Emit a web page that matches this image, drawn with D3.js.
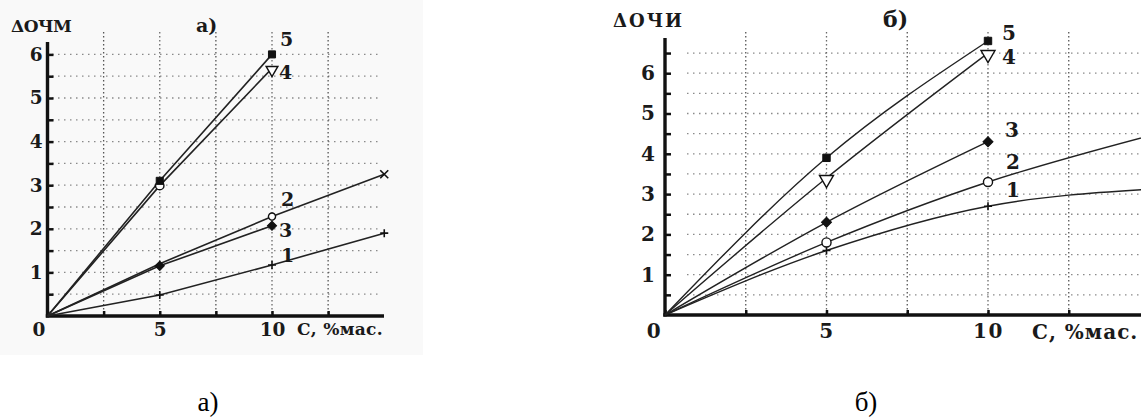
<!DOCTYPE html>
<html><head><meta charset="utf-8">
<script src="https://cdn.jsdelivr.net/npm/d3@7"></script>
<style>
html,body{margin:0;padding:0;background:#fff;}
svg{display:block;}
</style></head>
<body>
<svg id="c" width="1141" height="418"></svg>
<script>
// ---- data ----
const concA = [0, 5, 10, 15];
const a1 = [0, 0.48, 1.17, 1.9];
const a2 = [0, 1.2, 2.28, 3.25];
const a3 = [0, 1.15, 2.07];
const a4 = [0, 2.99, 5.68];
const a5 = [0, 3.1, 6.0];

const concB = [0, 5, 10, 15];
const b1 = [0, 1.6, 2.7, 3.12];
const b2 = [0, 1.8, 3.3, 4.45];
const b3 = [0, 2.3, 4.3];
const b4 = [0, 3.4, 6.5];
const b5 = [0, 3.9, 6.8];

const seriesNames = ["1", "2", "3", "4", "5"];
const xTickLabels = [0, 5, 10];
const yTickLabels = [1, 2, 3, 4, 5, 6];
const xLabel = "С, %мас.";
const yLabelA = "ΔОЧМ";
const yLabelB = "ΔОЧИ";
const titleA = "а)";
const titleB = "б)";

const FONT = "'DejaVu Serif', 'Liberation Serif', serif";
const svg = d3.select("#c");

function zip(xs, ys) { return ys.map((y, i) => [xs[i], y]); }

function txt(g, x, y, s, fs, ls) {
  return g.append("text").attr("x", x).attr("y", y)
    .attr("font-family", FONT).attr("font-size", fs).attr("font-weight", "bold")
    .attr("letter-spacing", ls || 0).attr("fill", "#1a1a1a").text(s);
}

function drawPanel(cfg) {
  const g = svg.append("g");
  if (cfg.bg) {
    g.append("rect").attr("x", 0).attr("y", 0).attr("width", cfg.bg[0]).attr("height", cfg.bg[1]).attr("fill", "#f9f9f9");
  }
  const x = d3.scaleLinear().domain(cfg.xDomain).range(cfg.xRange);
  const y = d3.scaleLinear().domain(cfg.yDomain).range(cfg.yRange);

  // horizontal grid
  const hg = d3.range(0.5, cfg.gridYMax + 0.01, 0.5);
  g.append("g").selectAll("line").data(hg).join("line")
    .attr("x1", cfg.hGridX0).attr("x2", cfg.hGridX1)
    .attr("y1", d => y(d)).attr("y2", d => y(d))
    .attr("stroke", "#8a8a8a").attr("stroke-width", 1.3).attr("stroke-dasharray", "1.5,4.5");
  // vertical grid
  const vg = [2.5, 5, 7.5, 10, 12.5];
  g.append("g").selectAll("line").data(vg).join("line")
    .attr("x1", d => x(d)).attr("x2", d => x(d))
    .attr("y1", cfg.vGridTop).attr("y2", y(0))
    .attr("stroke", d => (d % 5 === 0 ? "#6a6a6a" : "#555")).attr("stroke-width", 1.3)
    .attr("stroke-dasharray", "1.5,2.5");

  // axes
  const yAxis = d3.axisLeft(y).tickValues(d3.range(0.5, cfg.gridYMax + 0.01, 0.5))
    .tickSizeInner(-6).tickSizeOuter(0).tickPadding(cfg.yPad)
    .tickFormat(d => (Number.isInteger(d) && yTickLabels.includes(d) ? d : ""));
  const ya = g.append("g").attr("transform", `translate(${x(0)},0)`).call(yAxis);
  ya.attr("font-family", FONT);
  ya.select(".domain").remove();
  ya.selectAll(".tick line").attr("stroke", "#111").attr("stroke-width", 2.5);
  ya.selectAll("text").attr("font-size", cfg.tickFs).attr("font-weight", "bold").attr("fill", "#1a1a1a");
  g.append("line").attr("x1", x(0)).attr("x2", x(0)).attr("y1", cfg.yAxisTop).attr("y2", y(0) + 1.5)
    .attr("stroke", "#111").attr("stroke-width", 3.4);

  const xAxis = d3.axisBottom(x).tickValues([0, 2.5, 5, 7.5, 10, 12.5])
    .tickSizeInner(-5).tickSizeOuter(0).tickPadding(cfg.xPad)
    .tickFormat(d => (xTickLabels.includes(d) ? d : ""));
  const xa = g.append("g").attr("transform", `translate(0,${y(0)})`).call(xAxis);
  xa.attr("font-family", FONT);
  xa.select(".domain").remove();
  xa.selectAll(".tick line").attr("stroke", "#111").attr("stroke-width", 2.5);
  xa.selectAll("text").attr("font-size", cfg.tickFs).attr("font-weight", "bold").attr("fill", "#1a1a1a")
    .attr("letter-spacing", cfg.ls)
    .attr("dx", d => (d === 0 ? cfg.zeroDx : 0));
  g.append("line").attr("x1", x(0) - 1.7).attr("x2", cfg.xAxisEnd).attr("y1", y(0)).attr("y2", y(0))
    .attr("stroke", "#111").attr("stroke-width", 3.4);

  // x label, y label, title
  txt(g, cfg.xLabelPos[0], cfg.xLabelPos[1], xLabel, cfg.xLabelFs, cfg.xLabelLs);
  txt(g, cfg.yLabelPos[0], cfg.yLabelPos[1], cfg.yLabel, cfg.yLabelFs, cfg.yLabelLs);
  txt(g, cfg.titlePos[0], cfg.titlePos[1], cfg.title, cfg.titleFs, 0);

  // lines
  const line = d3.line().x(d => x(d[0])).y(d => y(d[1])).curve(cfg.curve);
  cfg.series.forEach(s => {
    g.append("path").datum(zip(cfg.xs, s.vals)).attr("d", line)
      .attr("fill", "none").attr("stroke", "#222").attr("stroke-width", cfg.lw);
  });
  // markers
  const symMap = { square: d3.symbolSquare, circle: d3.symbolCircle, diamond: d3.symbolSquare, tri: d3.symbolTriangle };
  cfg.series.forEach(s => {
    s.marks.forEach((m, i) => {
      if (!m) return;
      const px = x(cfg.xs[i]), py = y(s.vals[i]);
      const p = g.append("path");
      if (m.t === "plus" || m.t === "x") {
        p.attr("d", (m.t === "plus" ? `M-4,0H4M0,-4V4` : `M-4,-4L4,4M-4,4L4,-4`))
          .attr("transform", `translate(${px},${py})`)
          .attr("stroke", "#111").attr("stroke-width", 1.6).attr("fill", "none");
        return;
      }
      let rot = "";
      if (m.t === "tri") rot = " rotate(180) translate(0,-1.5)";
      if (m.t === "diamond") rot = " rotate(45)";
      p.attr("d", d3.symbol().type(symMap[m.t]).size(m.size)())
        .attr("transform", `translate(${px},${py})` + rot);
      if (m.fill) p.attr("fill", "#111").attr("stroke", "#111").attr("stroke-width", 1);
      else p.attr("fill", "#fff").attr("stroke", "#111").attr("stroke-width", 1.4);
    });
  });
  // series labels
  cfg.labels.forEach((p, i) => {
    txt(g, p[0], p[1], seriesNames[i], cfg.serFs, 0).attr("dy", "0.36em");
  });
}

// panel а)
drawPanel({
  id: "A", bg: [423, 355],
  xDomain: [0, 15], xRange: [47.5, 47.5 + 15 * 22.45],
  yDomain: [0, 6], yRange: [316, 316 - 6 * 43.6],
  gridYMax: 6, hGridX0: 52, hGridX1: 382, vGridTop: 32,
  yAxisTop: 42, xAxisEnd: 384,
  yPad: 5, xPad: 7, tickFs: 18.5, zeroDx: -9, ls: 0,
  xLabelPos: [297, 335], xLabelFs: 17, xLabelLs: 0.3,
  yLabel: yLabelA, yLabelPos: [11, 32], yLabelFs: 17, yLabelLs: -0.5,
  title: titleA, titlePos: [196, 32], titleFs: 19,
  xs: concA, lw: 1.6, curve: d3.curveLinear,
  series: [
    { vals: a1, marks: [null, { t: "plus" }, { t: "plus" }, { t: "plus" }] },
    { vals: a2, marks: [null, null, { t: "circle", size: 40 }, { t: "x" }] },
    { vals: a3, marks: [null, { t: "diamond", size: 42, fill: true }, { t: "diamond", size: 42, fill: true }] },
    { vals: a4, marks: [null, { t: "circle", size: 55 }, { t: "tri", size: 60 }] },
    { vals: a5, marks: [null, { t: "square", size: 50, fill: true }, { t: "square", size: 50, fill: true }] }
  ],
  labels: [[281, 255], [281, 199], [279, 230], [279, 72], [280, 39]], serFs: 19
});

// panel б)
drawPanel({
  id: "B",
  xDomain: [0, 15], xRange: [665, 665 + 15 * 32.3],
  yDomain: [0, 6], yRange: [315, 315 - 6 * 40.3],
  gridYMax: 6.5, hGridX0: 687, hGridX1: 1141, vGridTop: 32,
  yAxisTop: 38, xAxisEnd: 1141,
  yPad: 10, xPad: 9, tickFs: 20, zeroDx: -11, ls: 1.5,
  xLabelPos: [1032, 339], xLabelFs: 20, xLabelLs: 1,
  yLabel: yLabelB, yLabelPos: [613, 27], yLabelFs: 18, yLabelLs: 2,
  title: titleB, titlePos: [883, 27], titleFs: 22,
  xs: concB, lw: 1.4, curve: d3.curveMonotoneX,
  series: [
    { vals: b1, marks: [null, { t: "plus" }, { t: "plus" }, null] },
    { vals: b2, marks: [null, { t: "circle", size: 65 }, { t: "circle", size: 65 }, null] },
    { vals: b3, marks: [null, { t: "diamond", size: 50, fill: true }, { t: "diamond", size: 50, fill: true }] },
    { vals: b4, marks: [null, { t: "tri", size: 85 }, { t: "tri", size: 85 }] },
    { vals: b5, marks: [null, { t: "square", size: 55, fill: true }, { t: "square", size: 55, fill: true }] }
  ],
  labels: [[1006, 190], [1006, 162], [1005, 130], [1002, 57], [1002, 33]], serFs: 20
});

// captions below panels
svg.append("text").attr("x", 208).attr("y", 411).attr("text-anchor", "middle")
  .attr("font-family", "'Liberation Serif', serif")
  .attr("font-size", 27).attr("fill", "#000").text(titleA);
svg.append("text").attr("x", 866).attr("y", 411).attr("text-anchor", "middle")
  .attr("font-family", "'Liberation Serif', serif")
  .attr("font-size", 27).attr("fill", "#000").text(titleB);
</script>
</body></html>
